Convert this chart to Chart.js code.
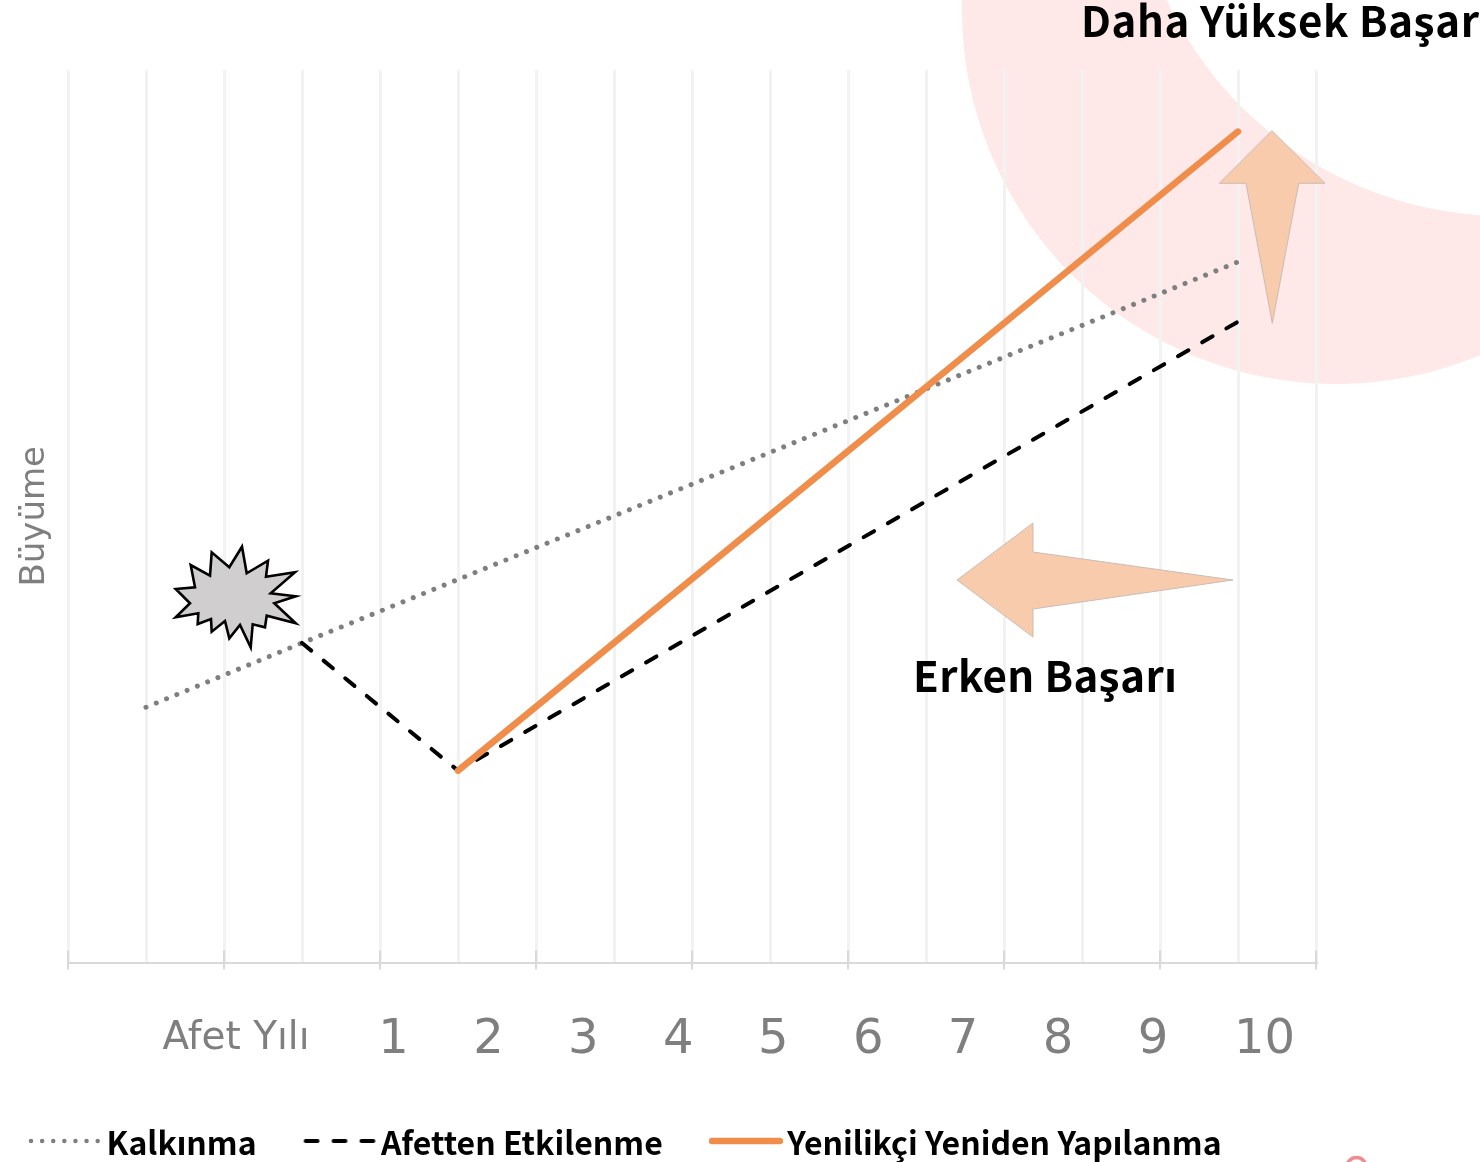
<!DOCTYPE html>
<html lang="tr">
<head>
<meta charset="utf-8">
<title>Büyüme</title>
<style>html,body{margin:0;padding:0;background:#fff;overflow:hidden}canvas{display:block}</style>
<script src="https://cdn.jsdelivr.net/npm/chart.js@4/dist/chart.umd.min.js"></script>
</head>
<body>
<canvas id="c" width="1480" height="1162"></canvas>
<script>
// ---- data (years on a half-year grid, growth on an arbitrary 0-100 scale)
const developmentX = [1, 3, 15];
const developmentY = [28.6, 35.8, 78.5];
const disasterX = [3, 5, 15];
const disasterY = [35.8, 21.5, 71.8];
const innovativeX = [5, 15];
const innovativeY = [21.5, 93.1];
const seriesNames = ["Kalkınma", "Afetten Etkilenme", "Yenilikçi Yeniden Yapılanma"];
const tickLabels = ["Afet Yılı", "1", "2", "3", "4", "5", "6", "7", "8", "9", "10"];
const tickSlots = [-0.659, 1, 2, 3, 4, 5, 6, 7, 8, 9, 10.174];
const yAxisTitle = "Büyüme";
const noteHigher = "Daha Yüksek Başarı";
const noteEarly = "Erken Başarı";

const zip = (xs, ys) => xs.map((x, i) => ({x, y: ys[i]}));
const SANS = '"Noto Sans CJK JP","Noto Sans",sans-serif';
const GREY = '"DejaVu Sans",sans-serif';

// ---- decoration (page pixels)
const burst = [[175.7,589],[195,587.3],[190.7,565],[210,575.7],[211.7,552.3],[229.3,567.3],[242,546.7],[246.7,573.3],[268,560.7],[266,576.7],[295,572.3],[270.7,593.3],[295.7,596.3],[274.3,603.3],[295.7,623.3],[266.7,615.7],[265,627.3],[252.7,624.3],[250.7,647.3],[240,625],[229.3,638.3],[225,621],[211.7,631.7],[211,619],[197.7,624],[198.3,613.3],[175.7,617.3],[190,603.3]];
const arrowUp = [[1272,130.7],[1325,183.3],[1298.7,183.3],[1272.3,323.3],[1246,183.3],[1219.3,183.3]];
const arrowLeft = [[957,580],[1033,523],[1033,552],[1233,580],[1033,609],[1033,637]];

function poly(ctx, pts, fill, stroke, w) {
  ctx.beginPath();
  pts.forEach((p, i) => i ? ctx.lineTo(p[0], p[1]) : ctx.moveTo(p[0], p[1]));
  ctx.closePath();
  ctx.fillStyle = fill; ctx.fill();
  ctx.strokeStyle = stroke; ctx.lineWidth = w; ctx.lineJoin = 'miter'; ctx.stroke();
}

// legend swatch, drawn in the series' own line style
function swatch(ds, width) {
  const cv = document.createElement('canvas');
  cv.width = 74; cv.height = 20;
  const g = cv.getContext('2d');
  g.strokeStyle = ds.borderColor;
  g.lineWidth = width;
  g.lineCap = 'round';
  g.setLineDash(ds.borderDash || []);
  g.beginPath(); g.moveTo(3, 8); g.lineTo(71, 8); g.stroke();
  return cv;
}

const backdrop = {
  id: 'backdrop',
  afterLayout(chart) {
    const lg = chart.legend;
    lg.left = -18; lg.top = 1069.5;
  },
  beforeDraw(chart) {
    const ctx = chart.ctx;
    ctx.save();
    ctx.beginPath();
    ctx.arc(1336, 10, 374, 0, Math.PI * 2);
    ctx.moveTo(1878, -157);
    ctx.arc(1505, -157, 373, 0, Math.PI * 2);
    ctx.fillStyle = '#fee8e8';
    ctx.fill('evenodd');
    ctx.restore();
  },
  afterDatasetsDraw(chart) {
    const ctx = chart.ctx, sx = chart.scales.x, bottom = chart.chartArea.bottom;
    ctx.save();
    // long ticks on every second gridline
    ctx.strokeStyle = '#d9d9d9'; ctx.lineWidth = 2;
    for (let v = 0; v <= 16; v += 2) {
      const p = sx.getPixelForValue(v);
      ctx.beginPath(); ctx.moveTo(p, bottom - 12); ctx.lineTo(p, bottom + 7); ctx.stroke();
    }
    poly(ctx, burst, '#d0cece', '#000', 2.6);
    poly(ctx, arrowUp, '#f7cbac', '#c9bdb5', 1);
    poly(ctx, arrowLeft, '#f7cbac', '#c9bdb5', 1);
    ctx.fillStyle = '#000';
    ctx.textBaseline = 'middle'; ctx.textAlign = 'left';
    ctx.font = '700 42px ' + SANS;
    ctx.letterSpacing = '0.6px';
    ctx.fillText(noteHigher, 1081, 21.5);
    ctx.letterSpacing = '0.4px';
    ctx.fillText(noteEarly, 913, 676);
    ctx.letterSpacing = '0px';
    // cropped mark at the lower edge
    ctx.strokeStyle = '#f28b8e'; ctx.lineWidth = 3.5;
    ctx.beginPath(); ctx.arc(1356.5, 1167, 9.5, 0, Math.PI * 2); ctx.stroke();
    ctx.restore();
  }
};

const legendWidths = [4.5, 3.8, 6.5];

new Chart(document.getElementById('c'), {
  type: 'line',
  plugins: [backdrop],
  data: {
    datasets: [
      {label: seriesNames[0], data: zip(developmentX, developmentY), order: 3, xAxisID: 'x', yAxisID: 'y',
       borderColor: '#7f7f7f', borderWidth: 5, borderDash: [0.01, 11.1], borderCapStyle: 'round', pointRadius: 0, tension: 0},
      {label: seriesNames[1], data: zip(disasterX, disasterY), order: 2, xAxisID: 'x', yAxisID: 'y',
       borderColor: '#000000', borderWidth: 4, borderDash: [12, 15.9], borderCapStyle: 'round', pointRadius: 0, tension: 0},
      {label: seriesNames[2], data: zip(innovativeX, innovativeY), order: 1, xAxisID: 'x', yAxisID: 'y',
       borderColor: '#f08d4b', borderWidth: 6.5, borderCapStyle: 'round', pointRadius: 0, tension: 0}
    ]
  },
  options: {
    responsive: false,
    animation: false,
    devicePixelRatio: 1,
    layout: {padding: {left: 0, right: 164, top: 70, bottom: 0}},
    plugins: {
      tooltip: {enabled: false},
      title: {display: false},
      legend: {
        display: true, position: 'bottom', align: 'start',
        labels: {
          usePointStyle: true, pointStyleWidth: 51,
          boxHeight: 32, padding: 57.5, color: '#000',
          font: {family: SANS, size: 32, weight: '700'},
          generateLabels(chart) {
            return chart.data.datasets.map((ds, i) => ({
              text: ds.label, datasetIndex: i, hidden: false, fontColor: '#000',
              pointStyle: swatch(ds, legendWidths[i])
            }));
          }
        }
      }
    },
    scales: {
      x: {
        type: 'linear', position: 'bottom', min: 0, max: 16, weight: 0,
        ticks: {display: false, stepSize: 1, autoSkip: false},
        grid: {color: '#f2f2f2', lineWidth: 3, drawTicks: false},
        border: {color: '#d9d9d9', width: 2},
        afterFit(s) { s.height = 0; }
      },
      labels: {
        type: 'linear', position: 'bottom', min: -2.4285, max: 10.717, weight: 1,
        grid: {display: false}, border: {display: false},
        afterBuildTicks(s) { s.ticks = tickSlots.map(v => ({value: v})); },
        afterFit(s) { s.height = 100; s.paddingLeft = 0; s.paddingRight = 0; },
        ticks: {
          autoSkip: false, maxRotation: 0, minRotation: 0, padding: 41, color: '#7f7f7f',
          callback(v, i) { return tickLabels[i]; },
          font(ctx) { return ctx.index === 0
            ? {family: GREY, size: 39, lineHeight: 1.426}
            : {family: GREY, size: 48, lineHeight: 1.2}; }
        }
      },
      y: {
        type: 'linear', position: 'left', min: 0, max: 100,
        ticks: {display: false}, grid: {display: false}, border: {display: false},
        title: {display: true, text: yAxisTitle, color: '#7f7f7f', font: {family: GREY, size: 34}, padding: {top: 15, bottom: 0}},
        afterFit(s) { s.width = 68; }
      }
    }
  }
});
</script>
</body>
</html>
